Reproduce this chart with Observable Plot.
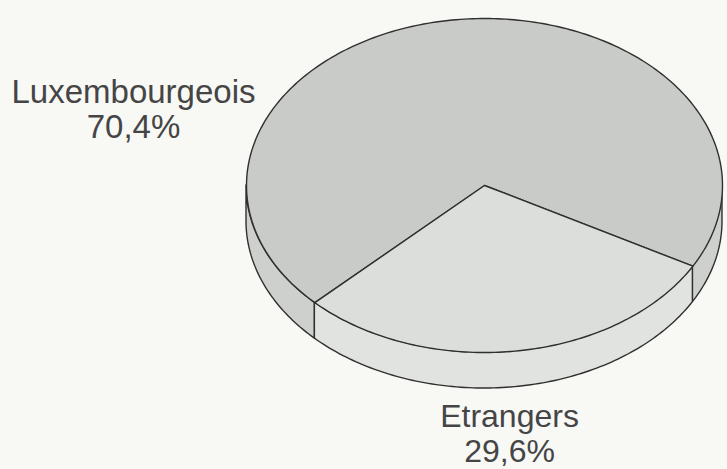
<!DOCTYPE html>
<html>
<head>
<meta charset="utf-8">
<script src="https://cdn.jsdelivr.net/npm/d3@7"></script>
<script src="https://cdn.jsdelivr.net/npm/@observablehq/plot@0.6"></script>
<style>
  html, body { margin: 0; padding: 0; background: #f8f8f5; }
  #chart svg { display: block; }
</style>
</head>
<body>
<div id="chart"></div>
<script>
// ---- data ----
const categories = ["Luxembourgeois", "Etrangers"];
const shares = [70.4, 29.6];
const shareLabels = ["70,4%", "29,6%"];

// ---- styles ----
const topFill = ["#c9cbc8", "#dcdedb"];
const sideFill = ["#ced0cd", "#e1e3e0"];
const edgeColor = "#2f2f2f";
const textColor = "#454545";

// ---- layout (pixels) ----
const W = 727, H = 469;
const CX = 484, CY = 185, RX = 238, RY = 167, DEPTH = 36;
const startDeg = 135.45;           // where the first slice begins (screen angle, clockwise)
const labelPos = [                  // [centre x, baseline of name, baseline of value, font size]
  [133, 102, 137, 33],
  [509, 426, 461, 32]
];

const toX = px => (px - CX) / RX;
const toY = py => (py - CY) / RY;
const T = DEPTH / RY;
const rad = d => d * Math.PI / 180;

const total = d3.sum(shares);
let a = startDeg;
const slices = categories.map((name, i) => {
  const span = shares[i] / total * 360;
  const s = {name, i, a0: a, a1: a + span};
  a += span;
  return s;
});

function arc(a0, a1) {
  const n = Math.max(2, Math.ceil(Math.abs(a1 - a0)));
  return d3.range(n + 1).map(k => a0 + (a1 - a0) * k / n);
}

// top faces
const topMarks = slices.map(s => {
  const pts = [{x: 0, y: 0}].concat(arc(s.a0, s.a1).map(t => ({x: Math.cos(rad(t)), y: Math.sin(rad(t))})));
  return Plot.line(pts, {x: "x", y: "y", curve: "linear-closed", fill: topFill[s.i],
    stroke: edgeColor, strokeWidth: 1.4, strokeLinejoin: "round"});
});

// visible side faces (front half: 0..180 deg)
const sideMarks = [];
slices.forEach(s => {
  for (const k of [0, 1]) {
    const lo = Math.max(s.a0, 360 * k), hi = Math.min(s.a1, 360 * k + 180);
    if (hi > lo) {
      const pts = arc(lo, hi).map(t => ({x: Math.cos(rad(t)), y1: Math.sin(rad(t)), y2: Math.sin(rad(t)) + T}));
      sideMarks.push(Plot.areaY(pts, {x: "x", y1: "y1", y2: "y2", fill: sideFill[s.i],
        stroke: edgeColor, strokeWidth: 1.4, strokeLinejoin: "round"}));
    }
  }
});

const labels = [];
categories.forEach((name, i) => {
  const [lx, ly1, ly2, fs] = labelPos[i];
  labels.push({x: toX(lx), y: toY(ly1), text: name, fs});
  labels.push({x: toX(lx), y: toY(ly2), text: shareLabels[i], fs});
});

const chart = Plot.plot({
  width: W,
  height: H,
  margin: 0,
  x: {domain: [toX(0), toX(W)], axis: null},
  y: {domain: [toY(0), toY(H)], reverse: true, axis: null},
  style: {background: "#f8f8f5", fontFamily: "'Liberation Sans', Arial, Helvetica, sans-serif"},
  marks: [
    ...sideMarks,
    ...topMarks,
    ...labels.map(l => Plot.text([l], {x: "x", y: "y", text: "text", textAnchor: "middle", lineAnchor: "bottom",
      fontSize: l.fs, fill: textColor}))
  ]
});
document.getElementById("chart").append(chart);
</script>
</body>
</html>
